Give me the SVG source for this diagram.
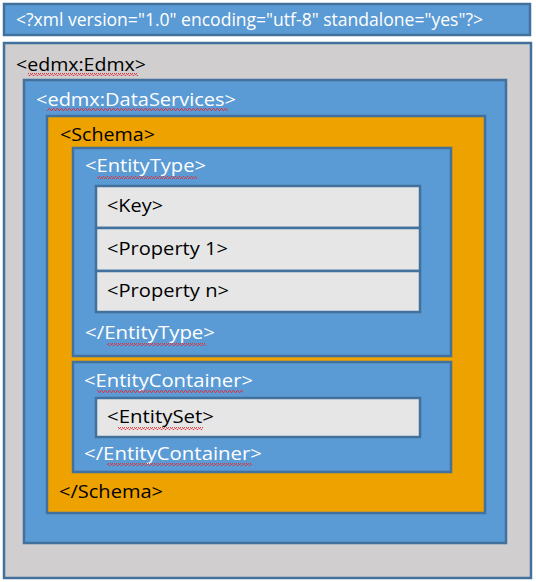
<svg xmlns="http://www.w3.org/2000/svg" width="536" height="582" viewBox="0 0 536 582">
<defs>
<style>
.box{stroke:#41719c;stroke-width:2.5}
.blue{fill:#5b9bd5}
.gray{fill:#d0cece}
.orange{fill:#eda200}
.light{fill:#e6e6e6}
text{font-family:"Open Sans","Noto Sans","Liberation Sans",sans-serif;font-size:18.5px}
.w{fill:#ffffff}
.k{fill:#000000}
.sq{fill:url(#squiggle)}
</style>
<pattern id="squiggle" x="0" y="0" width="4" height="3" patternUnits="userSpaceOnUse">
<path d="M0,2.5 L1,0.5 L2,0.5 L3,2.5 L4,2.5" fill="none" stroke="#e0303a" stroke-width="0.9"/>
</pattern>
</defs>
<g id="xml-declaration">
<rect class="box blue" x="4" y="4" width="526" height="31"/>
<text class="w" x="16" y="26" textLength="467" lengthAdjust="spacingAndGlyphs">&lt;?xml version="1.0" encoding="utf-8" standalone="yes"?&gt;</text>
</g>
<g id="edmx">
<rect class="box gray" x="4" y="43" width="527" height="535"/>
<text class="k" x="16" y="71" textLength="130" lengthAdjust="spacingAndGlyphs">&lt;edmx:Edmx&gt;</text>
<rect class="sq" x="28" y="73" width="110" height="3"/>
</g>
<g id="dataservices">
<rect class="box blue" x="24" y="80" width="482" height="463"/>
<text class="w" x="36" y="106" textLength="200" lengthAdjust="spacingAndGlyphs">&lt;edmx:DataServices&gt;</text>
<rect class="sq" x="47" y="108" width="181" height="3"/>
</g>
<g id="schema">
<rect class="box orange" x="47" y="116" width="438" height="397"/>
<text class="k" x="60" y="141" textLength="95" lengthAdjust="spacingAndGlyphs">&lt;Schema&gt;</text>
<text class="k" x="59" y="498" textLength="104" lengthAdjust="spacingAndGlyphs">&lt;/Schema&gt;</text>
</g>
<g id="entitytype">
<rect class="box blue" x="73" y="148" width="378" height="208"/>
<text class="w" x="85" y="172" textLength="121" lengthAdjust="spacingAndGlyphs">&lt;EntityType&gt;</text>
<rect class="sq" x="97" y="176" width="100" height="3"/>
<text class="w" x="85" y="339" textLength="130" lengthAdjust="spacingAndGlyphs">&lt;/EntityType&gt;</text>
<rect class="sq" x="107" y="343" width="99" height="3"/>
</g>
<g id="key">
<rect class="box light" x="96" y="186" width="324" height="42"/>
<text class="k" x="107" y="212" textLength="56" lengthAdjust="spacingAndGlyphs">&lt;Key&gt;</text>
</g>
<g id="property1">
<rect class="box light" x="96" y="228" width="324" height="43"/>
<text class="k" x="107" y="255" textLength="121" lengthAdjust="spacingAndGlyphs">&lt;Property 1&gt;</text>
</g>
<g id="propertyn">
<rect class="box light" x="96" y="271" width="324" height="41"/>
<text class="k" x="107" y="297" textLength="122" lengthAdjust="spacingAndGlyphs">&lt;Property n&gt;</text>
</g>
<g id="entitycontainer">
<rect class="box blue" x="73" y="362" width="378" height="110"/>
<text class="w" x="84" y="387" textLength="169" lengthAdjust="spacingAndGlyphs">&lt;EntityContainer&gt;</text>
<rect class="sq" x="97" y="390" width="146" height="3"/>
<text class="w" x="84" y="460" textLength="178" lengthAdjust="spacingAndGlyphs">&lt;/EntityContainer&gt;</text>
<rect class="sq" x="107" y="463" width="145" height="3"/>
</g>
<g id="entityset">
<rect class="box light" x="96" y="398" width="324" height="39"/>
<text class="k" x="107" y="423" textLength="107" lengthAdjust="spacingAndGlyphs">&lt;EntitySet&gt;</text>
<rect class="sq" x="118" y="427" width="85" height="3"/>
</g>
</svg>
